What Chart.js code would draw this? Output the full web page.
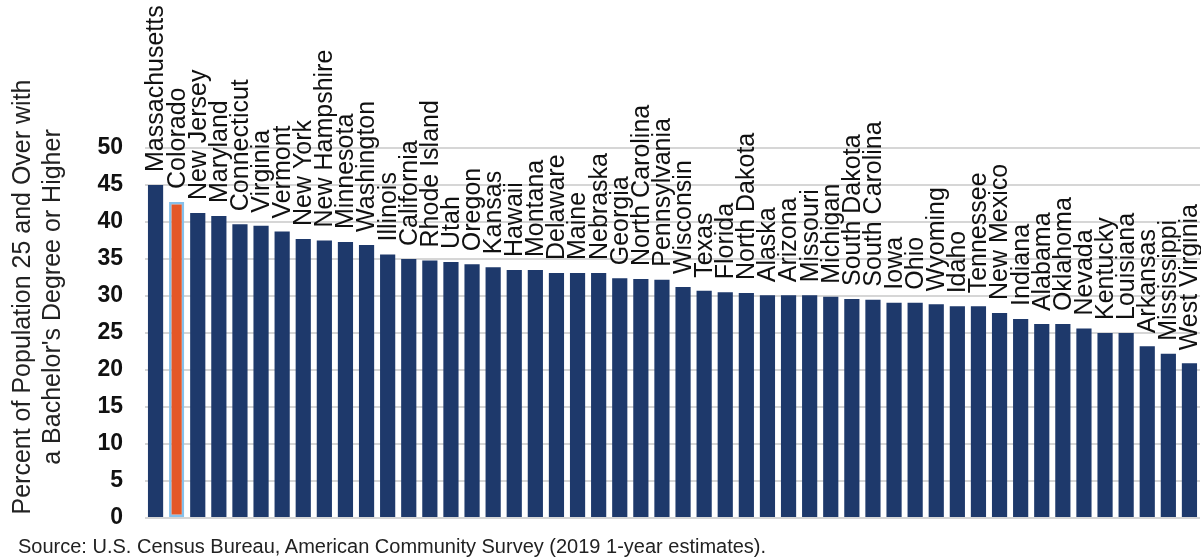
<!DOCTYPE html>
<html>
<head>
<meta charset="utf-8">
<script src="https://cdn.jsdelivr.net/npm/chart.js@4/dist/chart.umd.min.js"></script>
<style>
  html, body { margin: 0; padding: 0; background: #ffffff; }
  #wrap { position: relative; width: 1201px; height: 558px; overflow: hidden; }
  #c { position: absolute; left: 0; top: 0; }
  #source { position: absolute; left: 18px; top: 536px; line-height: 20px; font-family: "Liberation Sans", Arial, sans-serif; font-size: 20px; color: #222; white-space: nowrap; }
</style>
</head>
<body>
<div id="wrap">
  <canvas id="c" width="1201" height="558"></canvas>
  <div id="source">Source: U.S. Census Bureau, American Community Survey (2019 1-year estimates).</div>
</div>
<script>
const states = ["Massachusetts","Colorado","New Jersey","Maryland","Connecticut","Virginia","Vermont","New York","New Hampshire","Minnesota","Washington","Illinois","California","Rhode Island","Utah","Oregon","Kansas","Hawaii","Montana","Delaware","Maine","Nebraska","Georgia","North Carolina","Pennsylvania","Wisconsin","Texas","Florida","North Dakota","Alaska","Arizona","Missouri","Michigan","South Dakota","South Carolina","Iowa","Ohio","Wyoming","Idaho","Tennessee","New Mexico","Indiana","Alabama","Oklahoma","Nevada","Kentucky","Louisiana","Arkansas","Mississippi","West Virginia"];
const bachelorsPct = [45.0,42.7,41.2,40.8,39.7,39.5,38.7,37.7,37.5,37.3,36.9,35.6,35.0,34.8,34.6,34.3,33.9,33.5,33.5,33.1,33.1,33.1,32.4,32.3,32.2,31.2,30.7,30.5,30.4,30.1,30.1,30.1,29.9,29.6,29.5,29.1,29.1,28.9,28.6,28.6,27.7,26.9,26.2,26.2,25.6,25.0,25.0,23.2,22.2,20.9];
const highlightState = "Colorado";
const yTicks = [0,5,10,15,20,25,30,35,40,45,50];
const yTitle = ["Percent of Population 25 and Over with", "a Bachelor's Degree or Higher"];

const NAVY = "#1e396b";
const ORANGE = "#e45727";
const LIGHTBLUE = "#86c0ea";
const FONT = '"Liberation Sans", Arial, sans-serif';

const barLabels = {
  id: 'barLabels',
  afterDatasetsDraw(chart) {
    const ctx = chart.ctx;
    const meta = chart.getDatasetMeta(0);
    ctx.save();
    ctx.font = '25px ' + FONT;
    ctx.fillStyle = '#111111';
    ctx.textAlign = 'left';
    ctx.textBaseline = 'middle';
    meta.data.forEach((el, i) => {
      ctx.save();
      ctx.translate(el.x + 1, el.y - 13);
      ctx.rotate(-Math.PI / 2);
      ctx.fillText(states[i], 0, 0);
      ctx.restore();
    });
    ctx.restore();
  }
};

const yAxisTitle = {
  id: 'yAxisTitle',
  afterDraw(chart) {
    const ctx = chart.ctx;
    ctx.save();
    ctx.font = '25px ' + FONT;
    ctx.fillStyle = '#222222';
    ctx.textAlign = 'center';
    ctx.textBaseline = 'middle';
    const xs = [23, 53];
    yTitle.forEach((line, i) => {
      ctx.save();
      ctx.translate(xs[i], 297);
      ctx.rotate(-Math.PI / 2);
      ctx.fillText(line, 0, 0);
      ctx.restore();
    });
    ctx.restore();
  }
};

new Chart(document.getElementById('c'), {
  type: 'bar',
  data: {
    labels: states,
    datasets: [{
      data: bachelorsPct,
      backgroundColor: states.map(s => s === highlightState ? ORANGE : NAVY),
      borderColor: states.map(s => s === highlightState ? LIGHTBLUE : NAVY),
      borderWidth: states.map(s => s === highlightState ? 2.5 : 0),
      borderSkipped: false,
      barPercentage: 0.72,
      categoryPercentage: 1.0
    }]
  },
  options: {
    responsive: false,
    animation: false,
    devicePixelRatio: 1,
    layout: { padding: { left: 8, right: 1, top: 148, bottom: 40 } },
    plugins: { legend: { display: false }, tooltip: { enabled: false } },
    scales: {
      x: {
        display: false
      },
      y: {
        min: 0,
        max: 50,
        afterBuildTicks(scale) { scale.ticks = yTicks.map(v => ({ value: v })); },
        afterFit(scale) { scale.width = 137; },
        ticks: {
          padding: 22,
          color: '#111111',
          font: { family: FONT, size: 23, weight: 'bold' }
        },
        grid: { color: '#d6d6d6', lineWidth: 2, drawTicks: false },
        border: { display: false },
        title: { display: false }
      }
    }
  },
  plugins: [barLabels, yAxisTitle]
});
</script>
</body>
</html>
